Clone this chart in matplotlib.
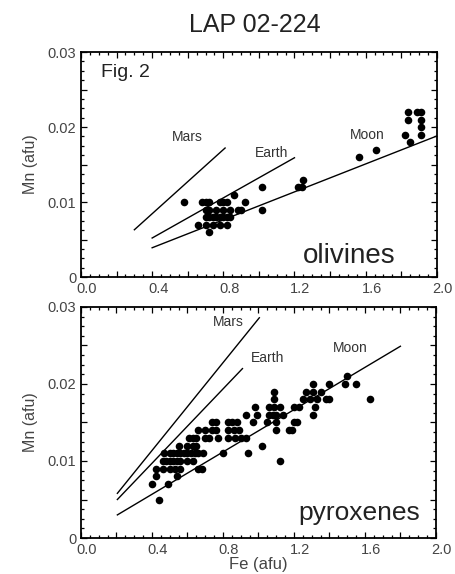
import numpy as np
import matplotlib
matplotlib.use("Agg")
import matplotlib.pyplot as plt
import matplotlib.transforms as mtrans
from matplotlib.ticker import MultipleLocator, FuncFormatter

plt.rcParams['font.family'] = ['Liberation Sans', 'DejaVu Sans']

# olivines (Fe, Mn in afu)
ol_fe = [0.58,
         0.68, 0.70, 0.72, 0.78, 0.80, 0.82, 0.92,
         0.70, 0.72, 0.76, 0.80, 0.84, 0.88, 0.90,
         0.70, 0.72, 0.74, 0.76, 0.78, 0.80, 0.82, 0.84,
         0.66, 0.70, 0.74, 0.78, 0.82,
         0.72, 0.86, 1.02, 1.02,
         1.22, 1.24, 1.25,
         1.56, 1.66, 1.82, 1.85, 1.84, 1.84,
         1.89, 1.91, 1.91, 1.91, 1.91]
ol_mn = [0.010,
         0.010, 0.010, 0.010, 0.010, 0.010, 0.010, 0.010,
         0.009, 0.009, 0.009, 0.009, 0.009, 0.009, 0.009,
         0.008, 0.008, 0.008, 0.008, 0.008, 0.008, 0.008, 0.008,
         0.007, 0.007, 0.007, 0.007, 0.007,
         0.006, 0.011, 0.012, 0.009,
         0.012, 0.012, 0.013,
         0.016, 0.017, 0.019, 0.018, 0.021, 0.022,
         0.022, 0.022, 0.021, 0.020, 0.019]

# pyroxenes
px_fe = [0.44, 0.40, 0.49, 0.42, 0.54,
         0.42, 0.46, 0.50, 0.53, 0.56, 0.66, 0.68,
         0.46, 0.48, 0.50, 0.52, 0.54, 0.56, 0.60, 0.63, 1.12,
         0.47, 0.50, 0.52, 0.54, 0.56, 0.58, 0.60, 0.62, 0.64, 0.66, 0.69, 0.80, 0.94,
         0.55, 0.60, 0.63, 0.65, 1.02,
         0.61, 0.63, 0.65, 0.70, 0.72, 0.77, 0.83, 0.87, 0.90, 0.93,
         0.66, 0.70, 0.74, 0.76, 0.83, 0.86, 0.89, 1.10, 1.17, 1.19,
         0.74, 0.76, 0.83, 0.85, 0.88, 0.97, 1.05, 1.10, 1.20, 1.22,
         0.93, 0.99, 1.06, 1.08, 1.10, 1.14, 1.31,
         0.98, 1.06, 1.09, 1.12, 1.20, 1.23, 1.32,
         1.09, 1.25, 1.29, 1.33, 1.38, 1.40, 1.63,
         1.09, 1.27, 1.31, 1.35,
         1.31, 1.40, 1.49, 1.55,
         1.50]
px_mn = [0.005, 0.007, 0.007, 0.008, 0.008,
         0.009, 0.009, 0.009, 0.009, 0.009, 0.009, 0.009,
         0.010, 0.010, 0.010, 0.010, 0.010, 0.010, 0.010, 0.010, 0.010,
         0.011, 0.011, 0.011, 0.011, 0.011, 0.011, 0.011, 0.011, 0.011, 0.011, 0.011, 0.011, 0.011,
         0.012, 0.012, 0.012, 0.012, 0.012,
         0.013, 0.013, 0.013, 0.013, 0.013, 0.013, 0.013, 0.013, 0.013, 0.013,
         0.014, 0.014, 0.014, 0.014, 0.014, 0.014, 0.014, 0.014, 0.014, 0.014,
         0.015, 0.015, 0.015, 0.015, 0.015, 0.015, 0.015, 0.015, 0.015, 0.015,
         0.016, 0.016, 0.016, 0.016, 0.016, 0.016, 0.016,
         0.017, 0.017, 0.017, 0.017, 0.017, 0.017, 0.017,
         0.018, 0.018, 0.018, 0.018, 0.018, 0.018, 0.018,
         0.019, 0.019, 0.019, 0.019,
         0.020, 0.020, 0.020, 0.020,
         0.021]

# planetary Fe/Mn reference lines: name, [x0,x1], [y0,y1], label position
ol_lines = [("Mars", [0.30, 0.81], [0.0063, 0.0172], (0.60, 0.0187)),
            ("Earth", [0.40, 1.20], [0.0052, 0.0159], (1.07, 0.0165)),
            ("Moon", [0.40, 2.00], [0.0039, 0.0188], (1.61, 0.0189))]
px_lines = [("Mars", [0.205, 1.005], [0.0058, 0.0286], (0.83, 0.0281)),
            ("Earth", [0.205, 0.91], [0.0050, 0.0220], (1.05, 0.0234)),
            ("Moon", [0.205, 1.80], [0.0030, 0.0249], (1.52, 0.0247))]


def xfmt(v, pos):
    if abs(v / 0.4 - round(v / 0.4)) < 1e-6:
        return "%.1f" % v
    return ""


def yfmt(v, pos):
    if abs(v) < 1e-9:
        return "0"
    if abs(v / 0.01 - round(v / 0.01)) < 1e-6:
        return "%.2f" % v
    return ""


def setup(ax):
    ax.set_xlim(0, 2.0)
    ax.set_ylim(0, 0.03)
    ax.xaxis.set_major_locator(MultipleLocator(0.2))
    ax.xaxis.set_minor_locator(MultipleLocator(0.05))
    ax.yaxis.set_major_locator(MultipleLocator(0.005))
    ax.yaxis.set_minor_locator(MultipleLocator(0.00125))
    ax.xaxis.set_major_formatter(FuncFormatter(xfmt))
    ax.yaxis.set_major_formatter(FuncFormatter(yfmt))
    ax.tick_params(which="both", direction="in", top=True, right=True,
                   labelsize=10.5, labelcolor="#444444", width=0.9)
    ax.tick_params(which="major", length=4)
    ax.tick_params(which="minor", length=2)
    for s in ax.spines.values():
        s.set_linewidth(1.3)
    ax.set_ylabel("Mn (afu)", fontsize=11.5, color="#444444", labelpad=7)
    # x tick labels sit a little to the right of their ticks in the original
    off = mtrans.ScaledTranslation(6 / 100, 0, ax.figure.dpi_scale_trans)
    for lab in ax.get_xticklabels():
        lab.set_transform(lab.get_transform() + off)


def draw(ax, fe, mn, lines):
    for name, xs, ys, lp in lines:
        ax.plot(xs, ys, "-k", lw=1.0)
        ax.text(lp[0], lp[1], name, fontsize=10, color="#333333",
                ha="center", va="center")
    ax.scatter(fe, mn, s=30, c="k", zorder=3, linewidths=0)


fig = plt.figure(figsize=[4.55, 5.74], dpi=100)
ax1 = fig.add_axes([0.178, 0.5174, 0.782, 0.392])
ax2 = fig.add_axes([0.178, 0.0627, 0.780, 0.4025])

setup(ax1)
draw(ax1, ol_fe, ol_mn, ol_lines)
ax1.text(0.25, 0.0273, "Fig. 2", fontsize=14, ha="center", va="center", color="#222222")
ax1.text(1.51, 0.0028, "olivines", fontsize=20, ha="center", va="center", color="#222222")

setup(ax2)
draw(ax2, px_fe, px_mn, px_lines)
ax2.text(1.57, 0.0033, "pyroxenes", fontsize=19, ha="center", va="center", color="#222222")
ax2.set_xlabel("Fe (afu)", fontsize=12, color="#444444", labelpad=0)

fig.text(0.56, 0.956, "LAP 02-224", fontsize=18, ha="center", va="center", color="#222222")

fig.savefig("out.png", dpi=100)
